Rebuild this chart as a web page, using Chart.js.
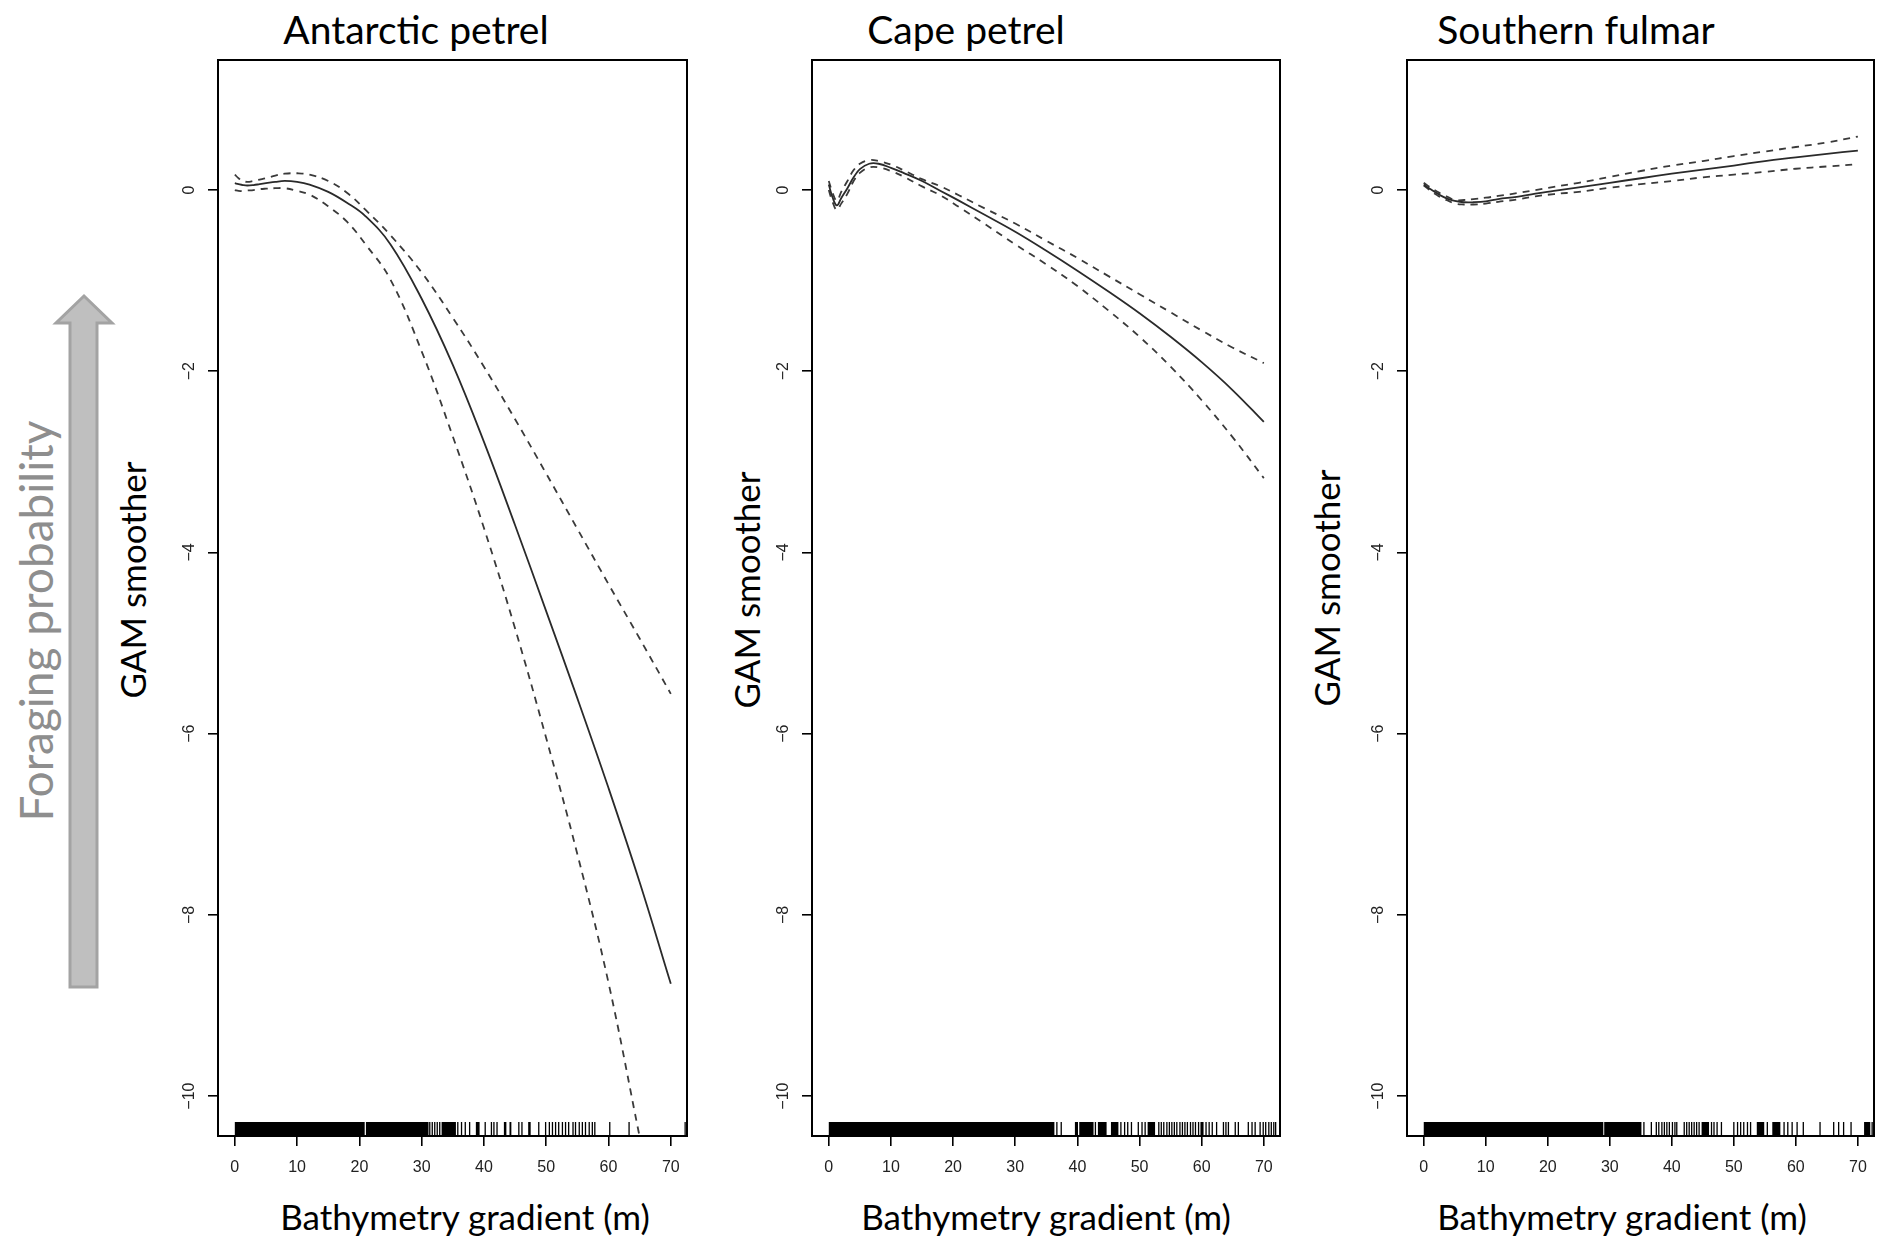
<!DOCTYPE html>
<html>
<head>
<meta charset="utf-8">
<title>GAM smoothers – bathymetry gradient</title>
<script src="https://cdn.jsdelivr.net/npm/chart.js@4.4.1/dist/chart.umd.min.js"></script>
<style>
  html, body { margin: 0; padding: 0; background: #fff; }
  #figure { position: relative; width: 1887px; height: 1247px; overflow: hidden; font-family: Lato, "Open Sans", sans-serif; }
  #figure canvas { position: absolute; top: 0; }
  .label { position: absolute; line-height: 1; white-space: nowrap; color: #000; }
  .panel-title { font-size: 39px; transform: translate(-50%, -50%); }
  .x-title { font-size: 35px; transform: translate(-50%, -50%); }
  .y-title { font-size: 35px; transform: translate(-50%, -50%) rotate(-90deg); }
  #side-label { left: 36px; top: 621px; transform: translate(-50%, -50%) rotate(-90deg); font-size: 46px; color: #8e8e8e; }
  #arrow { position: absolute; left: 0; top: 0; }
</style>
</head>
<body>
<div id="figure">
  <svg id="arrow" width="130" height="1000" viewBox="0 0 130 1000">
    <polygon points="84,296 56,323 70,323 70,987 97,987 97,323 112,323" fill="#bfbfbf" stroke="#a3a3a3" stroke-width="3"/>
  </svg>
  <div id="side-label" class="label">Foraging probability</div>
</div>
<script>
// values (GAM smoother vs bathymetry gradient)
const SPECIES = ["Antarctic petrel", "Cape petrel", "Southern fulmar"];
const X_TITLE = "Bathymetry gradient (m)";
const Y_TITLE = "GAM smoother";

const X_TICKS = [0, 10, 20, 30, 40, 50, 60, 70];
const Y_TICKS = [-10, -8, -6, -4, -2, 0];
const X_MIN = -2.7, X_MAX = 72.6;
const Y_MIN = -10.44, Y_MAX = 1.435;

const X_GRID = [0, 0.6, 1.3, 2, 3, 4, 5, 6.5, 8, 10, 12, 15, 18, 21, 25, 30, 35, 40, 45, 50, 55, 60, 65, 70];

const ANTARCTIC_FIT = [0.075, 0.065, 0.055, 0.05, 0.055, 0.065, 0.075, 0.09, 0.1, 0.09, 0.06, -0.02, -0.14, -0.29, -0.6, -1.2, -1.93, -2.78, -3.7, -4.65, -5.61, -6.6, -7.64, -8.76];
const ANTARCTIC_UPPER = [0.17, 0.13, 0.1, 0.09, 0.1, 0.115, 0.13, 0.16, 0.18, 0.185, 0.17, 0.1, -0.03, -0.22, -0.5, -0.91, -1.41, -1.95, -2.53, -3.13, -3.74, -4.35, -4.95, -5.56];
const ANTARCTIC_LOWER = [0.0, -0.01, -0.01, -0.005, 0.0, 0.01, 0.015, 0.02, 0.02, -0.01, -0.05, -0.18, -0.35, -0.6, -0.99, -1.78, -2.72, -3.73, -4.84, -6.05, -7.33, -8.75, -10.45, null];

const CAPE_FIT = [0.06, -0.08, -0.17, -0.09, 0.02, 0.14, 0.23, 0.29, 0.29, 0.245, 0.19, 0.1, -0.01, -0.12, -0.27, -0.46, -0.67, -0.89, -1.12, -1.36, -1.62, -1.9, -2.21, -2.56];
const CAPE_UPPER = [0.1, -0.03, -0.12, -0.02, 0.1, 0.22, 0.29, 0.33, 0.32, 0.28, 0.22, 0.12, 0.04, -0.06, -0.2, -0.37, -0.56, -0.75, -0.95, -1.15, -1.35, -1.55, -1.74, -1.91];
const CAPE_LOWER = [0.0, -0.13, -0.22, -0.15, -0.04, 0.1, 0.19, 0.25, 0.25, 0.21, 0.15, 0.04, -0.06, -0.19, -0.37, -0.6, -0.82, -1.06, -1.33, -1.62, -1.95, -2.32, -2.73, -3.18];

const FULMAR_FIT = [0.06, 0.03, 0.0, -0.03, -0.07, -0.1, -0.12, -0.135, -0.135, -0.125, -0.1, -0.075, -0.04, -0.01, 0.03, 0.08, 0.13, 0.18, 0.225, 0.27, 0.32, 0.36, 0.4, 0.435];
const FULMAR_UPPER = [0.08, 0.05, 0.02, -0.01, -0.05, -0.08, -0.11, -0.11, -0.1, -0.085, -0.065, -0.035, 0.0, 0.035, 0.08, 0.145, 0.21, 0.27, 0.32, 0.375, 0.425, 0.475, 0.525, 0.59];
const FULMAR_LOWER = [0.05, 0.02, -0.02, -0.05, -0.09, -0.12, -0.15, -0.16, -0.16, -0.15, -0.13, -0.105, -0.07, -0.045, -0.02, 0.025, 0.065, 0.1, 0.14, 0.17, 0.2, 0.235, 0.26, 0.285];

// rug: dense stretches as [from, to], single observations as values
const ANTARCTIC_RUG_BLOCKS = [[0, 20.85], [21.05, 31.1], [33.2, 35.5], [38.7, 39.3], [43.2, 43.6], [44.1, 44.4], [47.1, 47.5], [72.2, 72.4]];
const ANTARCTIC_RUG = [31.3, 31.7, 32.1, 32.5, 32.9, 35.8, 36.4, 37.0, 37.7, 40.2, 41.2, 41.6, 42.1, 45.6, 46.1, 48.8, 49.9, 50.5, 51.0, 51.5, 52.0, 52.6, 53.1, 53.6, 54.3, 54.7, 55.3, 55.8, 56.3, 56.9, 57.4, 57.8, 60.2, 63.3];
const CAPE_RUG_BLOCKS = [[0, 36.3], [39.6, 40.1], [40.3, 42.6], [43.3, 44.7], [45.4, 46.6], [51.3, 52.5], [59.8, 60.3]];
const CAPE_RUG = [36.7, 37.4, 42.9, 47.0, 47.6, 48.1, 48.7, 49.8, 50.4, 50.9, 53.1, 53.5, 53.9, 54.4, 54.8, 55.2, 55.6, 56.0, 56.5, 56.9, 57.3, 57.7, 58.2, 58.6, 59.0, 59.5, 60.7, 61.2, 61.7, 62.4, 63.5, 63.9, 64.3, 65.4, 65.9, 67.5, 68.1, 68.6, 69.4, 69.9, 70.3, 70.8, 71.2, 71.6, 71.9];
const FULMAR_RUG_BLOCKS = [[0, 28.95], [29.1, 35.1], [44.8, 46.0], [53.7, 54.9], [56.2, 57.5], [71.0, 72.0]];
const FULMAR_RUG = [35.5, 36.7, 37.5, 37.9, 38.4, 38.8, 39.2, 39.6, 40.1, 40.5, 40.8, 42.0, 42.4, 42.8, 43.2, 43.6, 44.0, 44.4, 46.4, 46.8, 47.3, 48.0, 50.0, 50.6, 51.1, 51.6, 52.2, 52.7, 55.4, 58.1, 58.7, 59.4, 60.2, 61.2, 63.9, 66.1, 66.9, 67.7, 68.9, 72.3];

(function () {
  const FIG_H = 1247;
  const PLOT_TOP = 60;
  const PLOT_BOTTOM = 1136;
  const AXIS_W = 130;
  const PAD_R = 8;

  // page placement of each panel: plot box edges and centres of the text around it
  const LAYOUT = [
    { left: 218, right: 687, titleX: 416, xTitleX: 465, yTitle: [132, 580] },
    { left: 812, right: 1280, titleX: 966, xTitleX: 1046, yTitle: [746, 590] },
    { left: 1407, right: 1874, titleX: 1576, xTitleX: 1622, yTitle: [1326, 588] },
  ];

  const SERIES = [
    { fit: ANTARCTIC_FIT, upper: ANTARCTIC_UPPER, lower: ANTARCTIC_LOWER, blocks: ANTARCTIC_RUG_BLOCKS, rug: ANTARCTIC_RUG },
    { fit: CAPE_FIT, upper: CAPE_UPPER, lower: CAPE_LOWER, blocks: CAPE_RUG_BLOCKS, rug: CAPE_RUG },
    { fit: FULMAR_FIT, upper: FULMAR_UPPER, lower: FULMAR_LOWER, blocks: FULMAR_RUG_BLOCKS, rug: FULMAR_RUG },
  ];

  Chart.defaults.font.family = "'Liberation Sans', Arial, sans-serif";
  Chart.defaults.color = "#222";

  function points(values) {
    return X_GRID.map((x, i) => ({ x: x, y: values[i] }));
  }

  function addLabel(figure, cls, text, x, y) {
    const el = document.createElement("div");
    el.className = "label " + cls;
    el.style.left = x + "px";
    el.style.top = y + "px";
    el.textContent = text;
    figure.appendChild(el);
  }

  function rugPlugin(blocks, ticks) {
    return {
      id: "rug",
      afterDatasetsDraw(chart) {
        const { ctx, chartArea, scales } = chart;
        const h = 14;
        const bottom = chartArea.bottom;
        ctx.save();
        ctx.fillStyle = "#000";
        ctx.strokeStyle = "#000";
        ctx.lineWidth = 1.3;
        blocks.forEach(([a, b]) => {
          const x0 = scales.x.getPixelForValue(a);
          const x1 = scales.x.getPixelForValue(b);
          ctx.fillRect(x0, bottom - h, x1 - x0, h);
        });
        ctx.beginPath();
        ticks.forEach((v) => {
          const px = scales.x.getPixelForValue(v);
          ctx.moveTo(px, bottom);
          ctx.lineTo(px, bottom - h);
        });
        ctx.stroke();
        ctx.restore();
      },
    };
  }

  const framePlugin = {
    id: "frame",
    afterDraw(chart) {
      const { ctx, chartArea } = chart;
      ctx.save();
      ctx.strokeStyle = "#000";
      ctx.lineWidth = 2;
      ctx.strokeRect(chartArea.left, chartArea.top, chartArea.right - chartArea.left, chartArea.bottom - chartArea.top);
      ctx.restore();
    },
  };

  function buildPanel(i) {
    const lay = LAYOUT[i];
    const s = SERIES[i];
    const figure = document.getElementById("figure");

    addLabel(figure, "panel-title", SPECIES[i], lay.titleX, 29);
    addLabel(figure, "x-title", X_TITLE, lay.xTitleX, 1216);
    addLabel(figure, "y-title", Y_TITLE, lay.yTitle[0], lay.yTitle[1]);

    const width = AXIS_W + (lay.right - lay.left) + PAD_R;
    const canvas = document.createElement("canvas");
    canvas.width = width;
    canvas.height = FIG_H;
    canvas.style.left = (lay.left - AXIS_W) + "px";
    canvas.style.width = width + "px";
    canvas.style.height = FIG_H + "px";
    figure.appendChild(canvas);

    const tickGrid = {
      display: true,
      drawOnChartArea: false,
      drawTicks: true,
      tickLength: 10,
      color: "#000",
      lineWidth: 1.6,
    };

    return new Chart(canvas, {
      type: "line",
      data: {
        datasets: [
          { label: "fit", data: points(s.fit), borderColor: "#2a2a2a", borderWidth: 1.8 },
          { label: "upper", data: points(s.upper), borderColor: "#3a3a3a", borderWidth: 1.8, borderDash: [7, 6] },
          { label: "lower", data: points(s.lower), borderColor: "#3a3a3a", borderWidth: 1.8, borderDash: [7, 6] },
        ],
      },
      options: {
        responsive: false,
        animation: false,
        layout: { padding: { top: PLOT_TOP, right: PAD_R, bottom: 0, left: 0 } },
        elements: {
          point: { radius: 0 },
          line: { tension: 0.4, fill: false },
        },
        plugins: {
          legend: { display: false },
          tooltip: { enabled: false },
        },
        scales: {
          x: {
            type: "linear",
            min: X_MIN,
            max: X_MAX,
            afterBuildTicks: (scale) => {
              scale.ticks = X_TICKS.map((v) => ({ value: v }));
            },
            afterFit: (scale) => {
              scale.height = FIG_H - PLOT_BOTTOM;
            },
            grid: tickGrid,
            border: { display: false },
            ticks: { font: { size: 16 }, padding: 12, maxRotation: 0, color: "#222" },
          },
          y: {
            type: "linear",
            min: Y_MIN,
            max: Y_MAX,
            afterBuildTicks: (scale) => {
              scale.ticks = Y_TICKS.map((v) => ({ value: v }));
            },
            afterFit: (scale) => {
              scale.width = AXIS_W;
            },
            grid: tickGrid,
            border: { display: false },
            ticks: {
              font: { size: 16 },
              padding: 5,
              minRotation: 90,
              maxRotation: 90,
              crossAlign: "center",
              color: "#222",
              callback: (v) => (v < 0 ? "\u2212" + Math.abs(v) : String(v)),
            },
          },
        },
      },
      plugins: [rugPlugin(s.blocks, s.rug), framePlugin],
    });
  }

  SPECIES.forEach((_, i) => buildPanel(i));
})();
</script>
</body>
</html>
